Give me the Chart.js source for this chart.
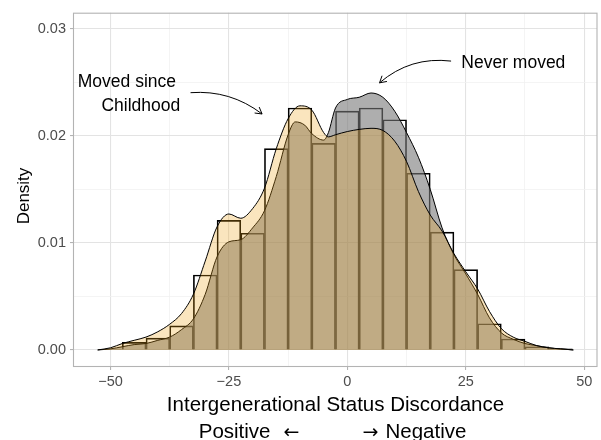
<!DOCTYPE html>
<html>
<head>
<meta charset="utf-8">
<script src="https://cdn.jsdelivr.net/npm/chart.js@4/dist/chart.umd.min.js"></script>
<style>
  html, body { margin: 0; padding: 0; background: #ffffff; }
  #wrap { width: 601px; height: 440px; position: relative; }
</style>
</head>
<body>
<div id="wrap"><canvas id="density-chart"></canvas></div>
<script>
// histogram (bin width 5)
const binCenters = [-50, -45, -40, -35, -30, -25, -20, -15, -10, -5, 0, 5, 10, 15, 20, 25, 30, 35, 40, 45];
const binHeights = [0.00005, 0.0007, 0.0011, 0.00225, 0.0070, 0.0121, 0.0109, 0.0188, 0.0226, 0.0193,
                    0.0223, 0.0226, 0.0215, 0.0165, 0.0110, 0.0075, 0.00245, 0.00102, 0.0003, 0.0001];

// density: moved since childhood
const movedX = [-52.7, -50, -47.5, -45, -42.5, -40, -37.5, -35, -32.5, -30, -27.5, -25, -22.5, -20, -17.5, -15,
                -12.5, -10, -7.5, -5, -4, -2.5, 0, 2.5, 5, 7.5, 10, 12.5, 15, 17.5, 20, 22.5, 25, 27.5, 30,
                32.5, 35, 37.5, 40, 42.5, 45, 47.7];
const movedY = [0, 0.0002, 0.0006, 0.0009, 0.0012, 0.0017, 0.0024, 0.0034, 0.0052, 0.0083, 0.0115, 0.0127, 0.0123,
                0.0132, 0.0151, 0.0188, 0.0216, 0.0228, 0.0224, 0.0203, 0.0199, 0.0201, 0.0204, 0.0206, 0.0207,
                0.0205, 0.0195, 0.0176, 0.0148, 0.0126, 0.0111, 0.0090, 0.0073, 0.0057, 0.0036, 0.0020, 0.0012,
                0.0008, 0.0004, 0.0002, 0.0001, 0];

// density: never moved
const neverX = [-52.7, -50, -47.5, -45, -42.5, -40, -37.5, -35, -32.5, -30, -27.5, -25, -22.5, -20, -17.5, -15,
                -12.5, -11, -9, -7.5, -5, -4, -2.5, 0, 2.5, 5, 7.5, 10, 12.5, 15, 17.5, 20, 22.5, 25, 27.5, 30,
                32.5, 35, 37.5, 40, 42.5, 45, 47.7];
const neverY = [0, 0.0001, 0.0003, 0.0005, 0.0006, 0.0009, 0.0012, 0.0019, 0.0029, 0.0052, 0.0087, 0.0101, 0.0103,
                0.0114, 0.0130, 0.0162, 0.0201, 0.0213, 0.0210, 0.0202, 0.0196, 0.0203, 0.0226, 0.0234, 0.0236,
                0.0240, 0.0236, 0.0223, 0.0203, 0.0180, 0.0150, 0.0114, 0.0089, 0.0071, 0.0052, 0.0030, 0.0016,
                0.0010, 0.0006, 0.0004, 0.0002, 0.0001, 0];

const xTickLabels = [-50, -25, 0, 25, 50];
const yTickLabels = [0, 0.01, 0.02, 0.03];

const xTitle = "Intergenerational Status Discordance";
const xSubLeft = "Positive";
const xSubRight = "Negative";
const yTitle = "Density";

const FONT = '"Liberation Sans", Arial, Helvetica, sans-serif';

function toPoints(xs, ys) {
    return xs.map((x, i) => ({x: x, y: ys[i]}));
}

function isMajorX(v) {
    return xTickLabels.some(t => Math.abs(t - v) < 1e-6);
}

function isMajorY(v) {
    return yTickLabels.some(t => Math.abs(t - v) < 1e-9);
}

function fmtNum(v) {
    return v < 0 ? "\u2212" + Math.abs(v) : String(v);
}

// curved arrow, ggplot annotate("curve") style
function drawCurve(ctx, x, y, from, to, k) {
    const x0 = x.getPixelForValue(from[0]), y0 = y.getPixelForValue(from[1]);
    const x2 = x.getPixelForValue(to[0]), y2 = y.getPixelForValue(to[1]);
    const mx = (x0 + x2) / 2, my = (y0 + y2) / 2;
    const cx = mx + k * (y2 - y0), cy = my - k * (x2 - x0);
    ctx.beginPath();
    ctx.moveTo(x0, y0);
    ctx.quadraticCurveTo(cx, cy, x2, y2);
    ctx.stroke();
    const ang = Math.atan2(y2 - cy, x2 - cx);
    const len = 7.5, spread = Math.PI / 6;
    ctx.beginPath();
    ctx.moveTo(x2 - len * Math.cos(ang - spread), y2 - len * Math.sin(ang - spread));
    ctx.lineTo(x2, y2);
    ctx.lineTo(x2 - len * Math.cos(ang + spread), y2 - len * Math.sin(ang + spread));
    ctx.stroke();
}

const panelDecor = {
    id: 'panelDecor',
    afterDraw(chart) {
        const ctx = chart.ctx;
        const a = chart.chartArea;
        const x = chart.scales.x, y = chart.scales.y;
        ctx.save();

        // panel border
        ctx.strokeStyle = '#b3b3b3';
        ctx.lineWidth = 1.1;
        ctx.strokeRect(a.left - 0.5, a.top + 0.5, a.right - a.left + 0.5, a.bottom - a.top);

        // axis titles
        const cx = (a.left + a.right) / 2;
        const base2 = a.bottom + 72;
        ctx.fillStyle = '#000000';
        ctx.font = '20.5px ' + FONT;
        ctx.textBaseline = 'alphabetic';
        ctx.textAlign = 'center';
        ctx.fillText(xTitle, cx, a.bottom + 44.5);

        // second line: "Positive <-      -> Negative"
        ctx.textAlign = 'right';
        ctx.fillText(xSubLeft, cx - 65, base2);
        ctx.textAlign = 'left';
        ctx.fillText(xSubRight, cx + 50, base2);
        ctx.font = '19px "DejaVu Sans", sans-serif';
        ctx.textAlign = 'right';
        ctx.fillText("\u2190", cx - 36, base2);
        ctx.textAlign = 'left';
        ctx.fillText("\u2192", cx + 27, base2);

        ctx.save();
        ctx.translate(24, 196);
        ctx.rotate(-Math.PI / 2);
        ctx.textAlign = 'center';
        ctx.textBaseline = 'middle';
        ctx.font = '17px ' + FONT;
        ctx.fillText(yTitle, 0, 0);
        ctx.restore();

        // annotations
        ctx.font = '17.5px ' + FONT;
        ctx.textAlign = 'left';
        ctx.textBaseline = 'alphabetic';
        ctx.fillText("Moved since", x.getPixelForValue(-56.9), y.getPixelForValue(0.02459));
        ctx.fillText("Childhood", x.getPixelForValue(-51.9), y.getPixelForValue(0.02228));
        ctx.fillText("Never moved", x.getPixelForValue(24.05), y.getPixelForValue(0.02636));

        ctx.strokeStyle = '#000000';
        ctx.lineWidth = 1;
        drawCurve(ctx, x, y, [-33.1, 0.02403], [-18.0, 0.02204], 0.19);
        drawCurve(ctx, x, y, [21.9, 0.02698], [6.8, 0.02495], -0.22);

        ctx.restore();
    }
};

const densityChart = new Chart(
    document.getElementById('density-chart'),
    {
        type: 'bar',
        data: {
            datasets: [
                {
                    type: 'line',
                    label: 'Moved since Childhood',
                    data: toPoints(movedX, movedY),
                    borderColor: '#000000',
                    borderWidth: 1,
                    backgroundColor: 'rgba(236, 160, 20, 0.28)',
                    fill: 'origin',
                    pointRadius: 0,
                    cubicInterpolationMode: 'monotone',
                    order: 1
                },
                {
                    type: 'line',
                    label: 'Never moved',
                    data: toPoints(neverX, neverY),
                    borderColor: '#000000',
                    borderWidth: 1,
                    backgroundColor: 'rgba(120, 120, 120, 0.6)',
                    fill: 'origin',
                    pointRadius: 0,
                    cubicInterpolationMode: 'monotone',
                    order: 2
                },
                {
                    type: 'bar',
                    label: 'Histogram',
                    data: toPoints(binCenters, binHeights),
                    backgroundColor: 'rgba(0, 0, 0, 0)',
                    borderColor: '#000000',
                    borderWidth: 1,
                    barPercentage: 1,
                    categoryPercentage: 1,
                    grouped: false,
                    order: 3
                }
            ]
        },
        options: {
            responsive: true,
            maintainAspectRatio: false,
            animation: false,
            layout: {
                padding: {top: 8, right: 4, bottom: 0, left: 0}
            },
            plugins: {
                legend: {display: false},
                tooltip: {enabled: false}
            },
            scales: {
                x: {
                    type: 'linear',
                    min: -57.7,
                    max: 52.7,
                    offset: false,
                    border: {display: false},
                    grid: {
                        offset: false,
                        color: ctx => isMajorX(ctx.tick.value) ? '#e3e3e3' : '#f1f1f1',
                        lineWidth: ctx => isMajorX(ctx.tick.value) ? 1.1 : 0.8,
                        tickColor: ctx => isMajorX(ctx.tick.value) ? '#b3b3b3' : 'rgba(0,0,0,0)',
                        tickLength: 4
                    },
                    ticks: {
                        stepSize: 12.5,
                        includeBounds: false,
                        autoSkip: false,
                        maxRotation: 0,
                        padding: 3,
                        color: '#4d4d4d',
                        font: {family: FONT, size: 14.5},
                        callback: v => isMajorX(v) ? fmtNum(v) : ''
                    },
                    afterFit: scale => { scale.height = 74; }
                },
                y: {
                    type: 'linear',
                    min: -0.0015,
                    max: 0.0315,
                    border: {display: false},
                    grid: {
                        color: ctx => isMajorY(ctx.tick.value) ? '#e3e3e3' : '#f1f1f1',
                        lineWidth: ctx => isMajorY(ctx.tick.value) ? 1.1 : 0.8,
                        tickColor: ctx => isMajorY(ctx.tick.value) ? '#b3b3b3' : 'rgba(0,0,0,0)',
                        tickLength: 4
                    },
                    ticks: {
                        stepSize: 0.005,
                        includeBounds: false,
                        autoSkip: false,
                        padding: 4,
                        color: '#4d4d4d',
                        font: {family: FONT, size: 14.5},
                        callback: v => isMajorY(v) ? v.toFixed(2) : ''
                    },
                    afterFit: scale => { scale.width = 74; }
                }
            }
        },
        plugins: [panelDecor]
    }
);
</script>
</body>
</html>
